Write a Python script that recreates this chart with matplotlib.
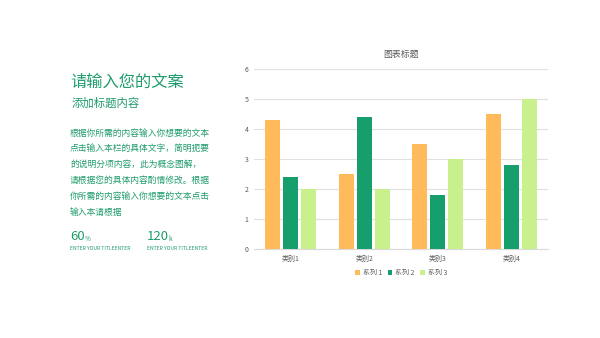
import matplotlib
matplotlib.use("Agg")
import matplotlib.pyplot as plt
import numpy as np

plt.rcParams['font.family'] = ['Noto Sans CJK SC', 'DejaVu Sans']

categories = ["类别1", "类别2", "类别3", "类别4"]
series_names = ["系列 1", "系列 2", "系列 3"]
series1 = [4.3, 2.5, 3.5, 4.5]
series2 = [2.4, 4.4, 1.8, 2.8]
series3 = [2.0, 2.0, 3.0, 5.0]
y_ticks = [0, 1, 2, 3, 4, 5, 6]

colors = ["#FFBA5C", "#179E6D", "#C8F08C"]
green_text = "#1E9C6B"

fig = plt.figure(figsize=(6.0, 3.38), dpi=100)

# Left-hand text block
fig.text(70/600, 1-82/338, "请输入您的文案", fontsize=11.7, color=green_text, va="center")
fig.text(72/600, 1-103/338, "添加标题内容", fontsize=8.2, color=green_text, va="center")
body = ["根据你所需的内容输入你想要的文本",
        "点击输入本栏的具体文字，简明扼要",
        "的说明分项内容，此为概念图解，",
        "请根据您的具体内容酌情修改。根据",
        "你所需的内容输入你想要的文本点击",
        "输入本请根据"]
for i, line in enumerate(body):
    fig.text(70/600, 1-(133 + i*15.8)/338, line, fontsize=6.3, color=green_text, va="center")

fig.text(70/600, 1-237/338, "60", fontsize=9.5, color=green_text, va="center")
fig.text(85/600, 1-239/338, "%", fontsize=4.5, color=green_text, va="center")
fig.text(147/600, 1-237/338, "120", fontsize=9.5, color=green_text, va="center")
fig.text(168/600, 1-239/338, "k", fontsize=4.5, color=green_text, va="center")
fig.text(70/600, 1-249/338, "ENTER YOUR TITLEENTER", fontsize=3.6, color=green_text, va="center")
fig.text(147/600, 1-249/338, "ENTER YOUR TITLEENTER", fontsize=3.6, color=green_text, va="center")

# Chart
ax = fig.add_axes([254/600, 1-249/338, 294/600, 180/338])
x = np.arange(len(categories))
w = 0.2
off = 0.244
for vals, c, name, d in zip([series1, series2, series3], colors, series_names, [-off, 0, off]):
    ax.bar(x + d, vals, width=w, color=c, label=name, zorder=3)

ax.set_xlim(-0.5, len(categories) - 0.5)
ax.set_ylim(0, 6)
ax.set_yticks(y_ticks)
ax.set_yticklabels([str(t) for t in y_ticks])
ax.set_xticks(x)
ax.set_xticklabels(categories)
ax.tick_params(axis="both", length=0, labelsize=5, colors="#595959", pad=4)
ax.grid(axis="y", color="#E0E0E0", linewidth=0.8, zorder=0)
for s in ["top", "right", "left"]:
    ax.spines[s].set_visible(False)
ax.spines["bottom"].set_color("#D9D9D9")
ax.spines["bottom"].set_linewidth(0.8)
ax.set_title("图表标题", fontsize=6.4, color="#595959", pad=9)

leg = ax.legend(loc="upper center", bbox_to_anchor=(0.5, -0.075), ncol=3, frameon=False,
                fontsize=5, handlelength=0.7, handleheight=0.7, handletextpad=0.4,
                columnspacing=0.8)
for t in leg.get_texts():
    t.set_color("#595959")

fig.savefig("out.png", dpi=100, facecolor="white")
